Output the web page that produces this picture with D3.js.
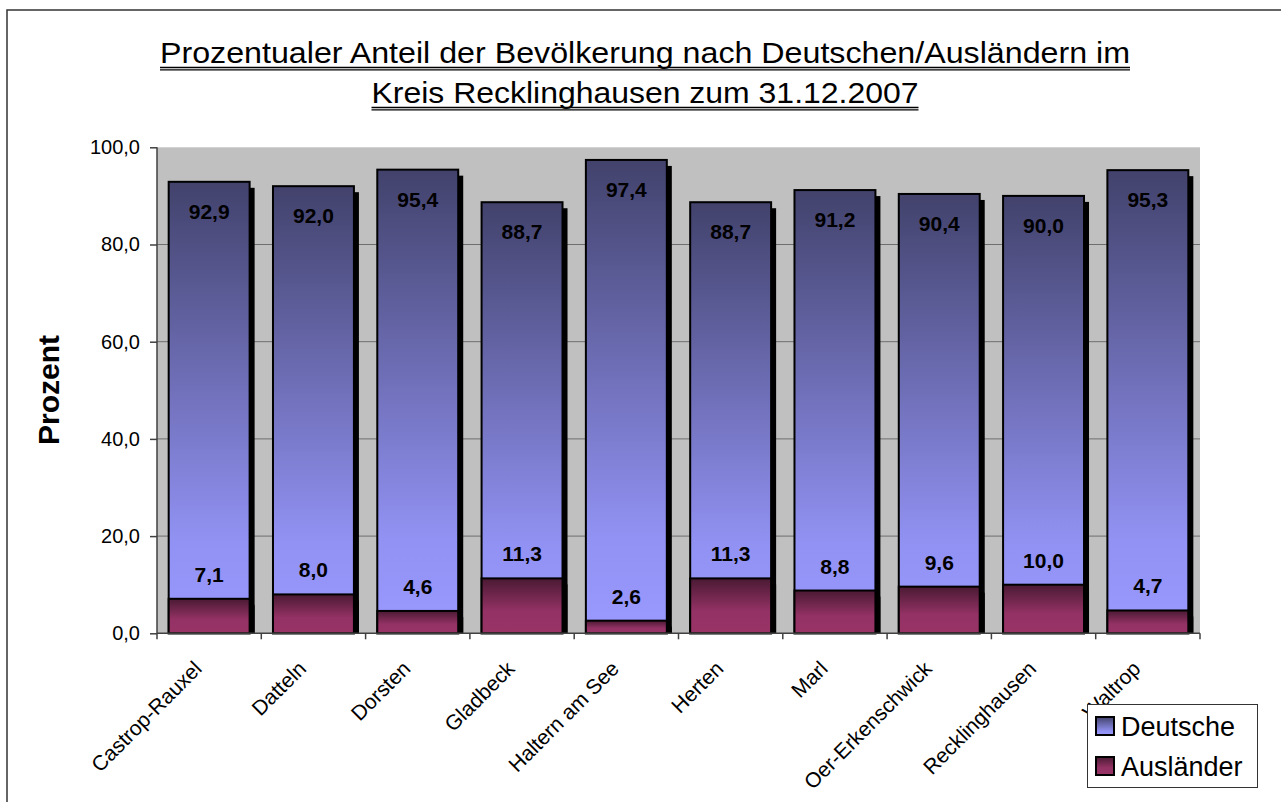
<!DOCTYPE html>
<html>
<head>
<meta charset="utf-8">
<script src="https://cdn.jsdelivr.net/npm/d3@7"></script>
<style>
  html, body { margin: 0; padding: 0; background: #fff; }
  svg { display: block; font-family: "Liberation Sans", Arial, sans-serif; }
</style>
</head>
<body>
<script>
var categories = ["Castrop-Rauxel", "Datteln", "Dorsten", "Gladbeck", "Haltern am See",
  "Herten", "Marl", "Oer-Erkenschwick", "Recklinghausen", "Waltrop"];
var deutsche = [92.9, 92.0, 95.4, 88.7, 97.4, 88.7, 91.2, 90.4, 90.0, 95.3];
var auslaender = [7.1, 8.0, 4.6, 11.3, 2.6, 11.3, 8.8, 9.6, 10.0, 4.7];
var yTicks = [0, 20, 40, 60, 80, 100];
var seriesNames = ["Deutsche", "Ausländer"];
var titleLines = ["Prozentualer Anteil der Bevölkerung nach Deutschen/Ausländern im",
  "Kreis Recklinghausen zum 31.12.2007"];

var width = 1281, height = 802;
var plot = { left: 157, right: 1200, top: 147.3, bottom: 633.3 };

var fmt = d3.formatLocale({ decimal: ",", thousands: ".", grouping: [3], currency: ["", "€"] }).format(".1f");

var svg = d3.select("body").append("svg").attr("width", width).attr("height", height);
var defs = svg.append("defs");

function gradient(id, stops) {
  var g = defs.append("linearGradient").attr("id", id)
    .attr("x1", 0).attr("y1", 0).attr("x2", 0).attr("y2", 1);
  stops.forEach(function (s) {
    g.append("stop").attr("offset", s[0]).attr("stop-color", s[1]);
  });
}
gradient("gDeutsche", [[0, "#42426c"], [0.8, "#9292f4"], [1, "#9999ff"]]);
gradient("gAusl", [[0, "#4a1a33"], [0.6, "#943265"], [1, "#993366"]]);

defs.append("clipPath").attr("id", "plotClip").append("rect")
  .attr("x", plot.left).attr("y", plot.top - 10)
  .attr("width", plot.right - plot.left).attr("height", plot.bottom - plot.top + 10);

// outer chart frame
svg.append("rect").attr("x", 7).attr("y", 10).attr("width", 1300).attr("height", 830)
  .attr("fill", "none").attr("stroke", "#333").attr("stroke-width", 1.5);

var x = d3.scaleBand().domain(categories).range([plot.left, plot.right])
  .paddingInner(0.224).paddingOuter(0.112);
var y = d3.scaleLinear().domain([0, 100]).range([plot.bottom, plot.top]);

// plot background
svg.append("rect").attr("x", plot.left).attr("y", plot.top)
  .attr("width", plot.right - plot.left).attr("height", plot.bottom - plot.top)
  .attr("fill", "#c0c0c0");

// gridlines
svg.append("g").selectAll("line").data(yTicks.filter(function (t) { return t > 0 && t < 100; }))
  .join("line")
  .attr("x1", plot.left).attr("x2", plot.right)
  .attr("y1", function (d) { return y(d); }).attr("y2", function (d) { return y(d); })
  .attr("stroke", "#6e6e6e").attr("stroke-width", 1);

var series = [
  { name: seriesNames[0], values: deutsche, fill: "url(#gDeutsche)" },
  { name: seriesNames[1], values: auslaender, fill: "url(#gAusl)" }
];

// shadows (behind all bars)
var shadows = svg.append("g").attr("clip-path", "url(#plotClip)");
series.forEach(function (s) {
  shadows.selectAll(null).data(s.values).join("rect")
    .attr("x", function (d, i) { return x(categories[i]) + 5; })
    .attr("y", function (d) { return y(d) + 6; })
    .attr("width", x.bandwidth())
    .attr("height", function (d) { return y(0) - y(d); })
    .attr("fill", "#000");
});

series.forEach(function (s) {
  svg.append("g").selectAll("rect").data(s.values).join("rect")
    .attr("x", function (d, i) { return x(categories[i]); })
    .attr("y", function (d) { return y(d); })
    .attr("width", x.bandwidth())
    .attr("height", function (d) { return y(0) - y(d); })
    .attr("fill", s.fill)
    .attr("stroke", "#000").attr("stroke-width", 2);
});

// data labels
svg.append("g").selectAll("text").data(deutsche).join("text")
  .attr("x", function (d, i) { return x(categories[i]) + x.bandwidth() / 2; })
  .attr("y", function (d) { return y(d) + 37; })
  .attr("text-anchor", "middle").attr("font-size", 21).attr("font-weight", "bold")
  .attr("fill", "#000").text(function (d) { return fmt(d); });
svg.append("g").selectAll("text").data(auslaender).join("text")
  .attr("x", function (d, i) { return x(categories[i]) + x.bandwidth() / 2; })
  .attr("y", function (d) { return y(d) - 17; })
  .attr("text-anchor", "middle").attr("font-size", 21).attr("font-weight", "bold")
  .attr("fill", "#000").text(function (d) { return fmt(d); });

// y axis
var yAxis = svg.append("g").attr("transform", "translate(" + plot.left + ",0)")
  .call(d3.axisLeft(y).tickValues(yTicks).tickSize(7).tickPadding(10).tickFormat(fmt));
yAxis.select(".domain").attr("stroke", "#404040").attr("stroke-width", 1.5).attr("d",
  "M0," + plot.bottom + "V" + plot.top);
yAxis.selectAll(".tick line").attr("stroke", "#404040").attr("stroke-width", 1.5);
yAxis.selectAll(".tick text").attr("font-size", 20).attr("font-family", "Liberation Sans, Arial, sans-serif")
  .attr("fill", "#000");

// x axis line and ticks at category boundaries
var xg = svg.append("g");
xg.append("line").attr("x1", plot.left).attr("x2", plot.right)
  .attr("y1", plot.bottom).attr("y2", plot.bottom)
  .attr("stroke", "#404040").attr("stroke-width", 1.5);
var step = x.step();
xg.selectAll(".xt").data(d3.range(categories.length + 1)).join("line")
  .attr("class", "xt")
  .attr("x1", function (i) { return plot.left + i * step; })
  .attr("x2", function (i) { return plot.left + i * step; })
  .attr("y1", plot.bottom).attr("y2", plot.bottom + 6)
  .attr("stroke", "#404040").attr("stroke-width", 1.5);
xg.selectAll("text").data(categories).join("text")
  .attr("transform", function (d) {
    return "translate(" + (x(d) + x.bandwidth() / 2 - 6) + "," + 670 + ") rotate(-45)";
  })
  .attr("text-anchor", "end").attr("font-size", 21).attr("fill", "#000")
  .text(function (d) { return d; });

// y axis title
svg.append("text").attr("transform", "translate(59,390) rotate(-90)")
  .attr("text-anchor", "middle").attr("font-size", 30).attr("font-weight", "bold")
  .text("Prozent");

// title with double underline
var titleBase = [63.3, 103.3];
var titleWidths = [970, 547];
titleLines.forEach(function (t, i) {
  svg.append("text").attr("x", 645).attr("y", titleBase[i])
    .attr("text-anchor", "middle").attr("font-size", 29)
    .attr("textLength", titleWidths[i]).attr("lengthAdjust", "spacingAndGlyphs")
    .text(t);
  [4.2, 6.6].forEach(function (off) {
    svg.append("line")
      .attr("x1", 645 - titleWidths[i] / 2).attr("x2", 645 + titleWidths[i] / 2)
      .attr("y1", titleBase[i] + off).attr("y2", titleBase[i] + off)
      .attr("stroke", "#000").attr("stroke-width", 1.3);
  });
});

// legend
var legend = svg.append("g");
legend.append("rect").attr("x", 1087.5).attr("y", 704.5).attr("width", 170).attr("height", 83)
  .attr("fill", "#fff").attr("stroke", "#333").attr("stroke-width", 1);
series.forEach(function (s, i) {
  var ly = 717 + i * 40;
  legend.append("rect").attr("x", 1096).attr("y", ly).attr("width", 18).attr("height", 18)
    .attr("fill", s.fill).attr("stroke", "#000").attr("stroke-width", 2);
  legend.append("text").attr("x", 1121).attr("y", ly + 18.5)
    .attr("font-size", 27).text(s.name);
});
</script>
</body>
</html>
